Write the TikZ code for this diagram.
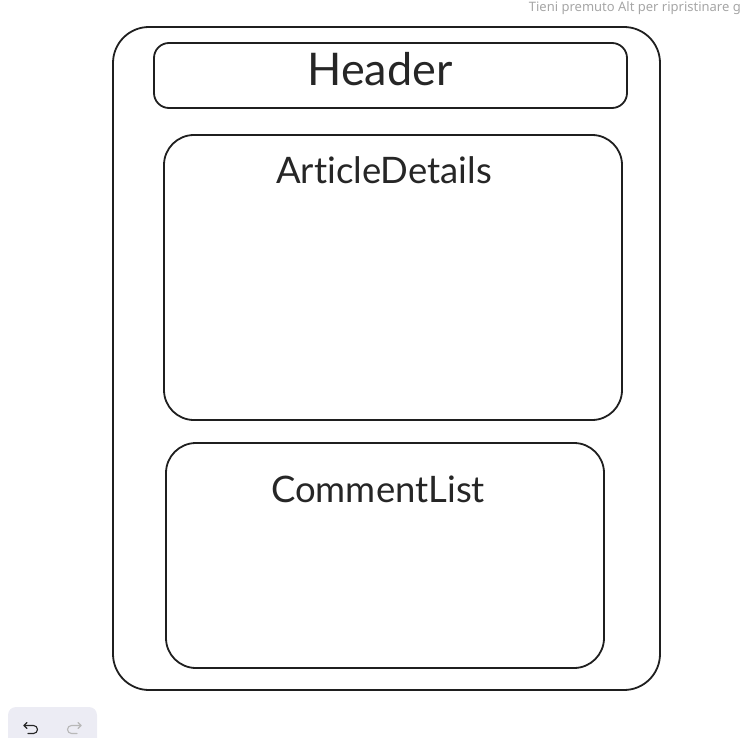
\documentclass[tikz,border=0pt]{standalone}
\usepackage{fontspec}
\setmainfont{Lato}[Ligatures={NoCommon,NoRare,NoContextual}]
\newfontfamily\uifont{Noto Sans}
\begin{document}
\begin{tikzpicture}[x=1pt,y=-1pt,
  box/.style={draw=black!88,line width=1.8pt},
  lbl/.style={inner sep=0pt,text=black!85,anchor=base},
  hint/.style={inner sep=0pt,text=black!35,font=\uifont\fontsize{13}{15}\selectfont},
  icon/.style={line width=1.1pt,line cap=round,line join=round}]
\useasboundingbox (0,0) rectangle (741,738);
% outer frame
\draw[box,rounded corners=36pt] (113,27) rectangle (660,690);
% header
\draw[box,rounded corners=15pt] (154,43) rectangle (627,108);
\node[lbl,font=\fontsize{45}{50}\selectfont] (header) at (380,86) {Header};
% article details
\draw[box,rounded corners=30pt] (164,135) rectangle (622,420);
\node[lbl,font=\fontsize{36.5}{42}\selectfont] (article) at (384,184) {ArticleDetails};
% comment list
\draw[box,rounded corners=30pt] (166,443) rectangle (604,668);
\node[lbl,font=\fontsize{36.5}{42}\selectfont] (comments) at (378,502) {CommentList};
% hint text
\node[hint,anchor=east] (hinttext) at (741,8) {Tieni premuto Alt per ripristinare g};
% undo / redo toolbar
\fill[fill={rgb,255:red,236;green,236;blue,244},rounded corners=8pt] (8,707) rectangle (97,748);
\coordinate (undo) at (31,728);
\coordinate (redo) at (74,728);
\draw[icon,black!85] ([shift={(-7,-2.5)}]undo) -- ([shift={(2.5,-2.5)}]undo)
  arc[start angle=-90,end angle=90,radius=4] -- ([shift={(-3,5.5)}]undo);
\draw[icon,black!85] ([shift={(-4,-5.5)}]undo) -- ([shift={(-7,-2.5)}]undo) -- ([shift={(-4,0.5)}]undo);
\draw[icon,black!28] ([shift={(7,-2.5)}]redo) -- ([shift={(-2.5,-2.5)}]redo)
  arc[start angle=-90,end angle=-270,radius=4] -- ([shift={(3,5.5)}]redo);
\draw[icon,black!28] ([shift={(4,-5.5)}]redo) -- ([shift={(7,-2.5)}]redo) -- ([shift={(4,0.5)}]redo);
\end{tikzpicture}
\end{document}
